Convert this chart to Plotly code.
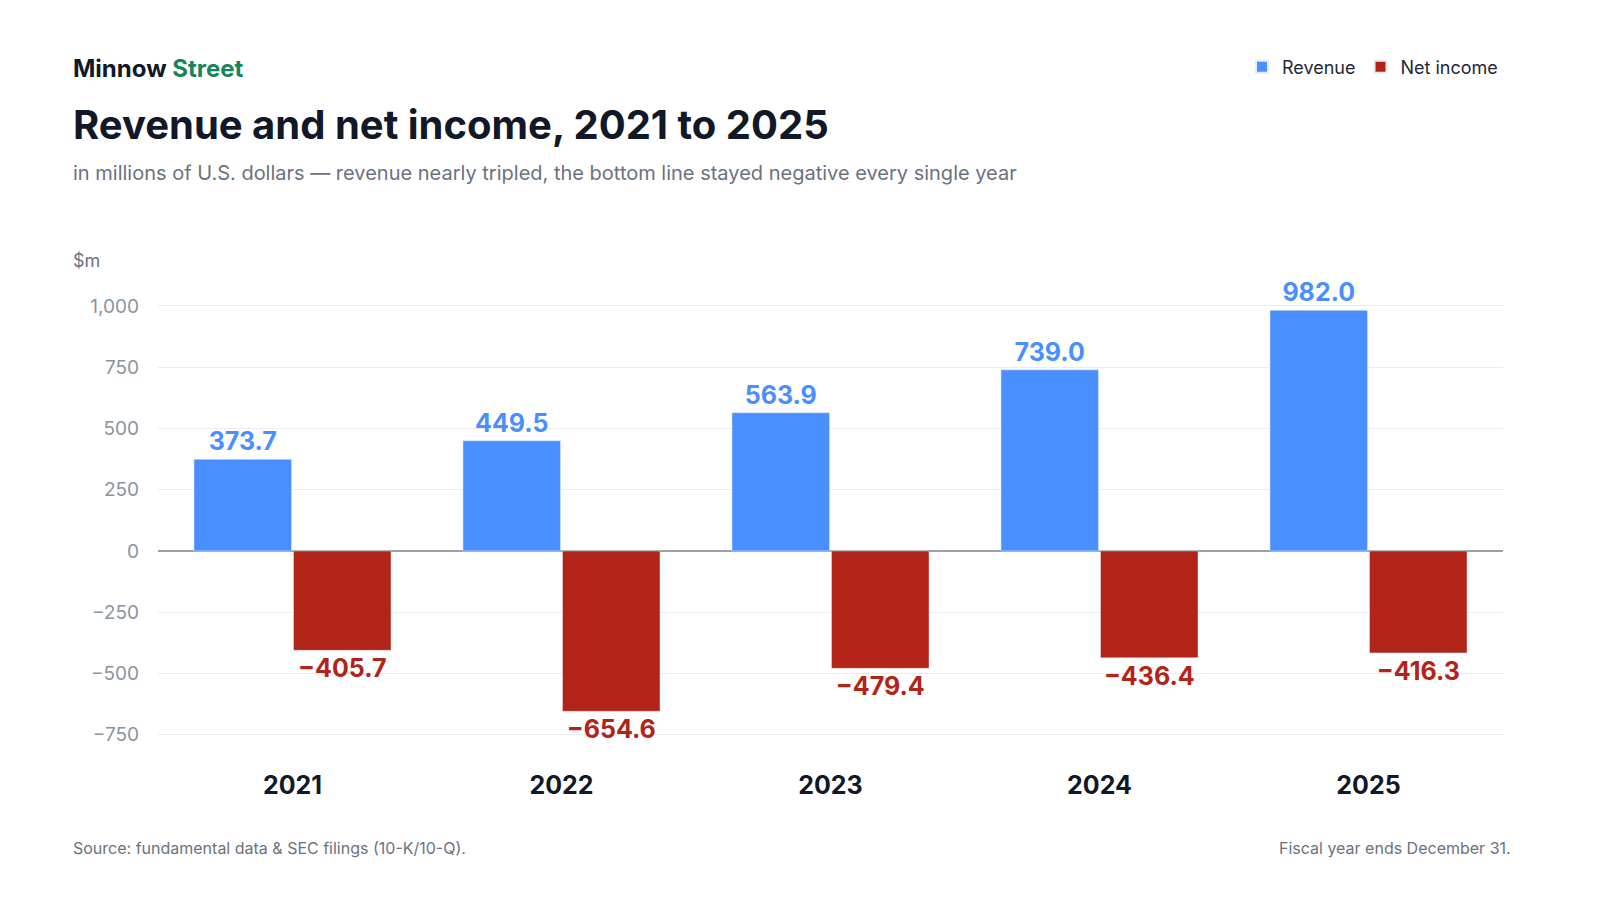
import plotly.graph_objects as go

years = ['2021', '2022', '2023', '2024', '2025']
revenue = [373.7, 449.5, 563.9, 739.0, 982.0]
net_income = [-405.7, -654.6, -479.4, -436.4, -416.3]

def fmt(v):
    s = f"{abs(v):,.1f}"
    return ("−" + s) if v < 0 else s

blue = '#4A8FFF'
red = '#B22418'

fig = go.Figure()
fig.add_trace(go.Bar(x=years, y=revenue, name='Revenue', marker_color=blue,
                     text=[fmt(v) for v in revenue], textposition='outside',
                     textfont=dict(color=blue, size=25, family='Inter', weight='bold'),
                     cliponaxis=False))
fig.add_trace(go.Bar(x=years, y=net_income, name='Net income', marker_color=red,
                     text=[fmt(v) for v in net_income], textposition='outside',
                     textfont=dict(color=red, size=25, family='Inter', weight='bold'),
                     cliponaxis=False))

fig.update_layout(
    width=1600, height=900, paper_bgcolor='white', plot_bgcolor='white',
    font=dict(family='Inter', color='#111827'),
    margin=dict(l=150, r=105, t=255, b=140),
    barmode='group', bargap=0.26, bargroupgap=0.02,
    showlegend=True,
    legend=dict(orientation='h', x=1.0, xanchor='right', y=1.0, yanchor='top',
                yref='container', xref='paper', font=dict(size=18, color='#1f2937'),
                itemsizing='constant', traceorder='normal'),
    xaxis=dict(tickfont=dict(size=25, color='#111827', weight='bold'), showgrid=False,
               ticks='', showline=False),
    yaxis=dict(range=[-886, 1175], tickvals=[-750, -500, -250, 0, 250, 500, 750, 1000],
               ticktext=['−750', '−500', '−250', '0', '250', '500', '750', '1,000'],
               tickfont=dict(size=19, color='#8b93a1'), gridcolor='#ececef',
               zeroline=True, zerolinecolor='#9aa1ab', zerolinewidth=2, ticks='',
               ticklabelstandoff=18),
    annotations=[
        dict(text="<b>Minnow <span style='color:#15855a'>Street</span></b>", x=63, y=60,
             xref='paper', yref='paper', showarrow=False, xanchor='left', yanchor='middle',
             font=dict(size=24, color='#111827')),
        dict(text="<b>Revenue and net income, 2021 to 2025</b>", x=63, y=116,
             showarrow=False, xanchor='left', yanchor='middle', font=dict(size=40, color='#111827')),
        dict(text="in millions of U.S. dollars — revenue nearly tripled, the bottom line stayed negative every single year",
             x=63, y=165, showarrow=False, xanchor='left', yanchor='middle', font=dict(size=20, color='#6b7280')),
        dict(text="$m", x=63, y=252, showarrow=False, xanchor='left', yanchor='middle',
             font=dict(size=18, color='#6b7280')),
        dict(text="Source: fundamental data &amp; SEC filings (10-K/10-Q).", x=63, y=840,
             showarrow=False, xanchor='left', yanchor='middle', font=dict(size=16, color='#6b7280')),
        dict(text="Fiscal year ends December 31.", x=1505, y=840,
             showarrow=False, xanchor='right', yanchor='middle', font=dict(size=16, color='#6b7280')),
    ],
)
# place annotations in pixel coordinates
for a in fig.layout.annotations:
    a.xref = 'paper'
    a.yref = 'paper'
    a.x = (a.x - 150) / (1600 - 150 - 105)
    a.y = 1 - (a.y - 255) / (900 - 255 - 140)
fig.update_layout(legend=dict(y=0.955))

fig.write_html("out.html")
